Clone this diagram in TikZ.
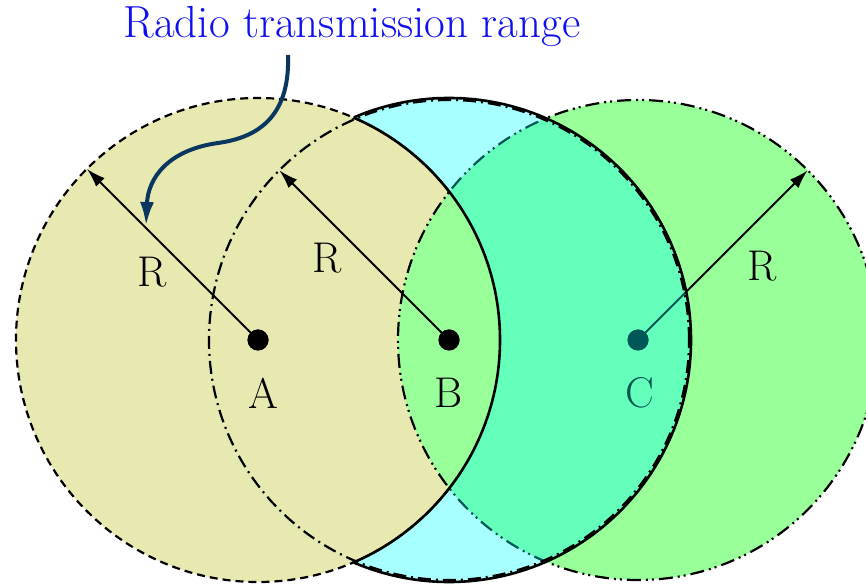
\documentclass[tikz,border=0pt]{standalone}
\usetikzlibrary{arrows.meta}
\definecolor{khaki}{RGB}{232,233,177}
\definecolor{lgreen}{RGB}{153,255,153}
\definecolor{callblue}{RGB}{10,55,95}
\definecolor{titleblue}{RGB}{15,15,240}
\definecolor{cyanish}{RGB}{0,255,255}
\tikzset{
  rangeA/.style={line width=2.2pt, dash pattern=on 8pt off 5pt},
  rangeB/.style={line width=2.2pt, dash pattern=on 13pt off 5pt on 2pt off 5pt},
  rangeC/.style={line width=2.2pt, dash pattern=on 14pt off 5pt on 2pt off 4pt on 2pt off 5pt},
  crescent/.style={line width=2.6pt},
  station/.style={circle, fill=black, inner sep=0pt, minimum size=21pt},
  radius/.style={line width=2pt, -{Latex[length=19pt,width=12pt]}},
  lbl/.style={font=\fontsize{43}{50}\selectfont, inner sep=0pt},
  callout/.style={line width=4pt, draw=callblue, -{Latex[length=24pt,width=14pt]}},
}
\begin{document}
\begin{tikzpicture}[x=1pt,y=1pt]
\useasboundingbox (0,0) rectangle (866,583);
\clip (0,0) rectangle (866,583);
\fill[white] (0,0) rectangle (866,583);
% circle A
\fill[khaki] (258,243) circle (242pt);
\draw[rangeA] (258,243) circle (242pt);
% circle C
\fill[lgreen] (638,243) circle (240pt);
\draw[rangeC] (638,243) circle (240pt);
% stations
\node[station] (A) at (258,243) {};
\node[station] (B) at (449,243) {};
\node[station] (C) at (638,243) {};
\path (A.center) ++(135:242) coordinate (ra);
\path (B.center) ++(135:240) coordinate (rb);
\path (C.center) ++(45:240) coordinate (rc);
\draw[radius] (A.center) -- (ra);
\draw[radius] (B.center) -- (rb);
\draw[radius] (C.center) -- (rc);
\node[station] at (A) {};
\node[station] at (B) {};
\node[station] at (C) {};
\node[lbl] (la) at (263,190) {A};
\node[lbl] (lb) at (449,190) {B};
\node[lbl] (lc) at (640,190) {C};
\node[lbl] (Ra) at (152,311) {R};
\node[lbl] (Rb) at (327,325) {R};
\node[lbl] (Rc) at (762,317) {R};
% crescent: B disc minus A disc
\begin{scope}
  \clip (449,243) circle (242pt);
  \fill[cyanish, fill opacity=0.34, even odd rule] (449,243) circle (242pt) (258,243) circle (242pt);
  \draw[crescent] (258,243) circle (242pt);
\end{scope}
\begin{scope}
  \clip (353.5,-10) rectangle (900,593);
  \draw[crescent] (449,243) circle (242pt);
\end{scope}
% circle B
\draw[rangeB] (449,243) circle (240pt);
% title and callout
\node[lbl, text=titleblue, font=\fontsize{45}{52}\selectfont] (title) at (352,557) {Radio transmission range};
\coordinate (cs) at (288,528);
\coordinate (ct) at (146,357);
\draw[callout] (cs) .. controls (290,470) and (262,446) .. (218,440)
  .. controls (168,433) and (148,405) .. (ct);
\end{tikzpicture}
\end{document}
